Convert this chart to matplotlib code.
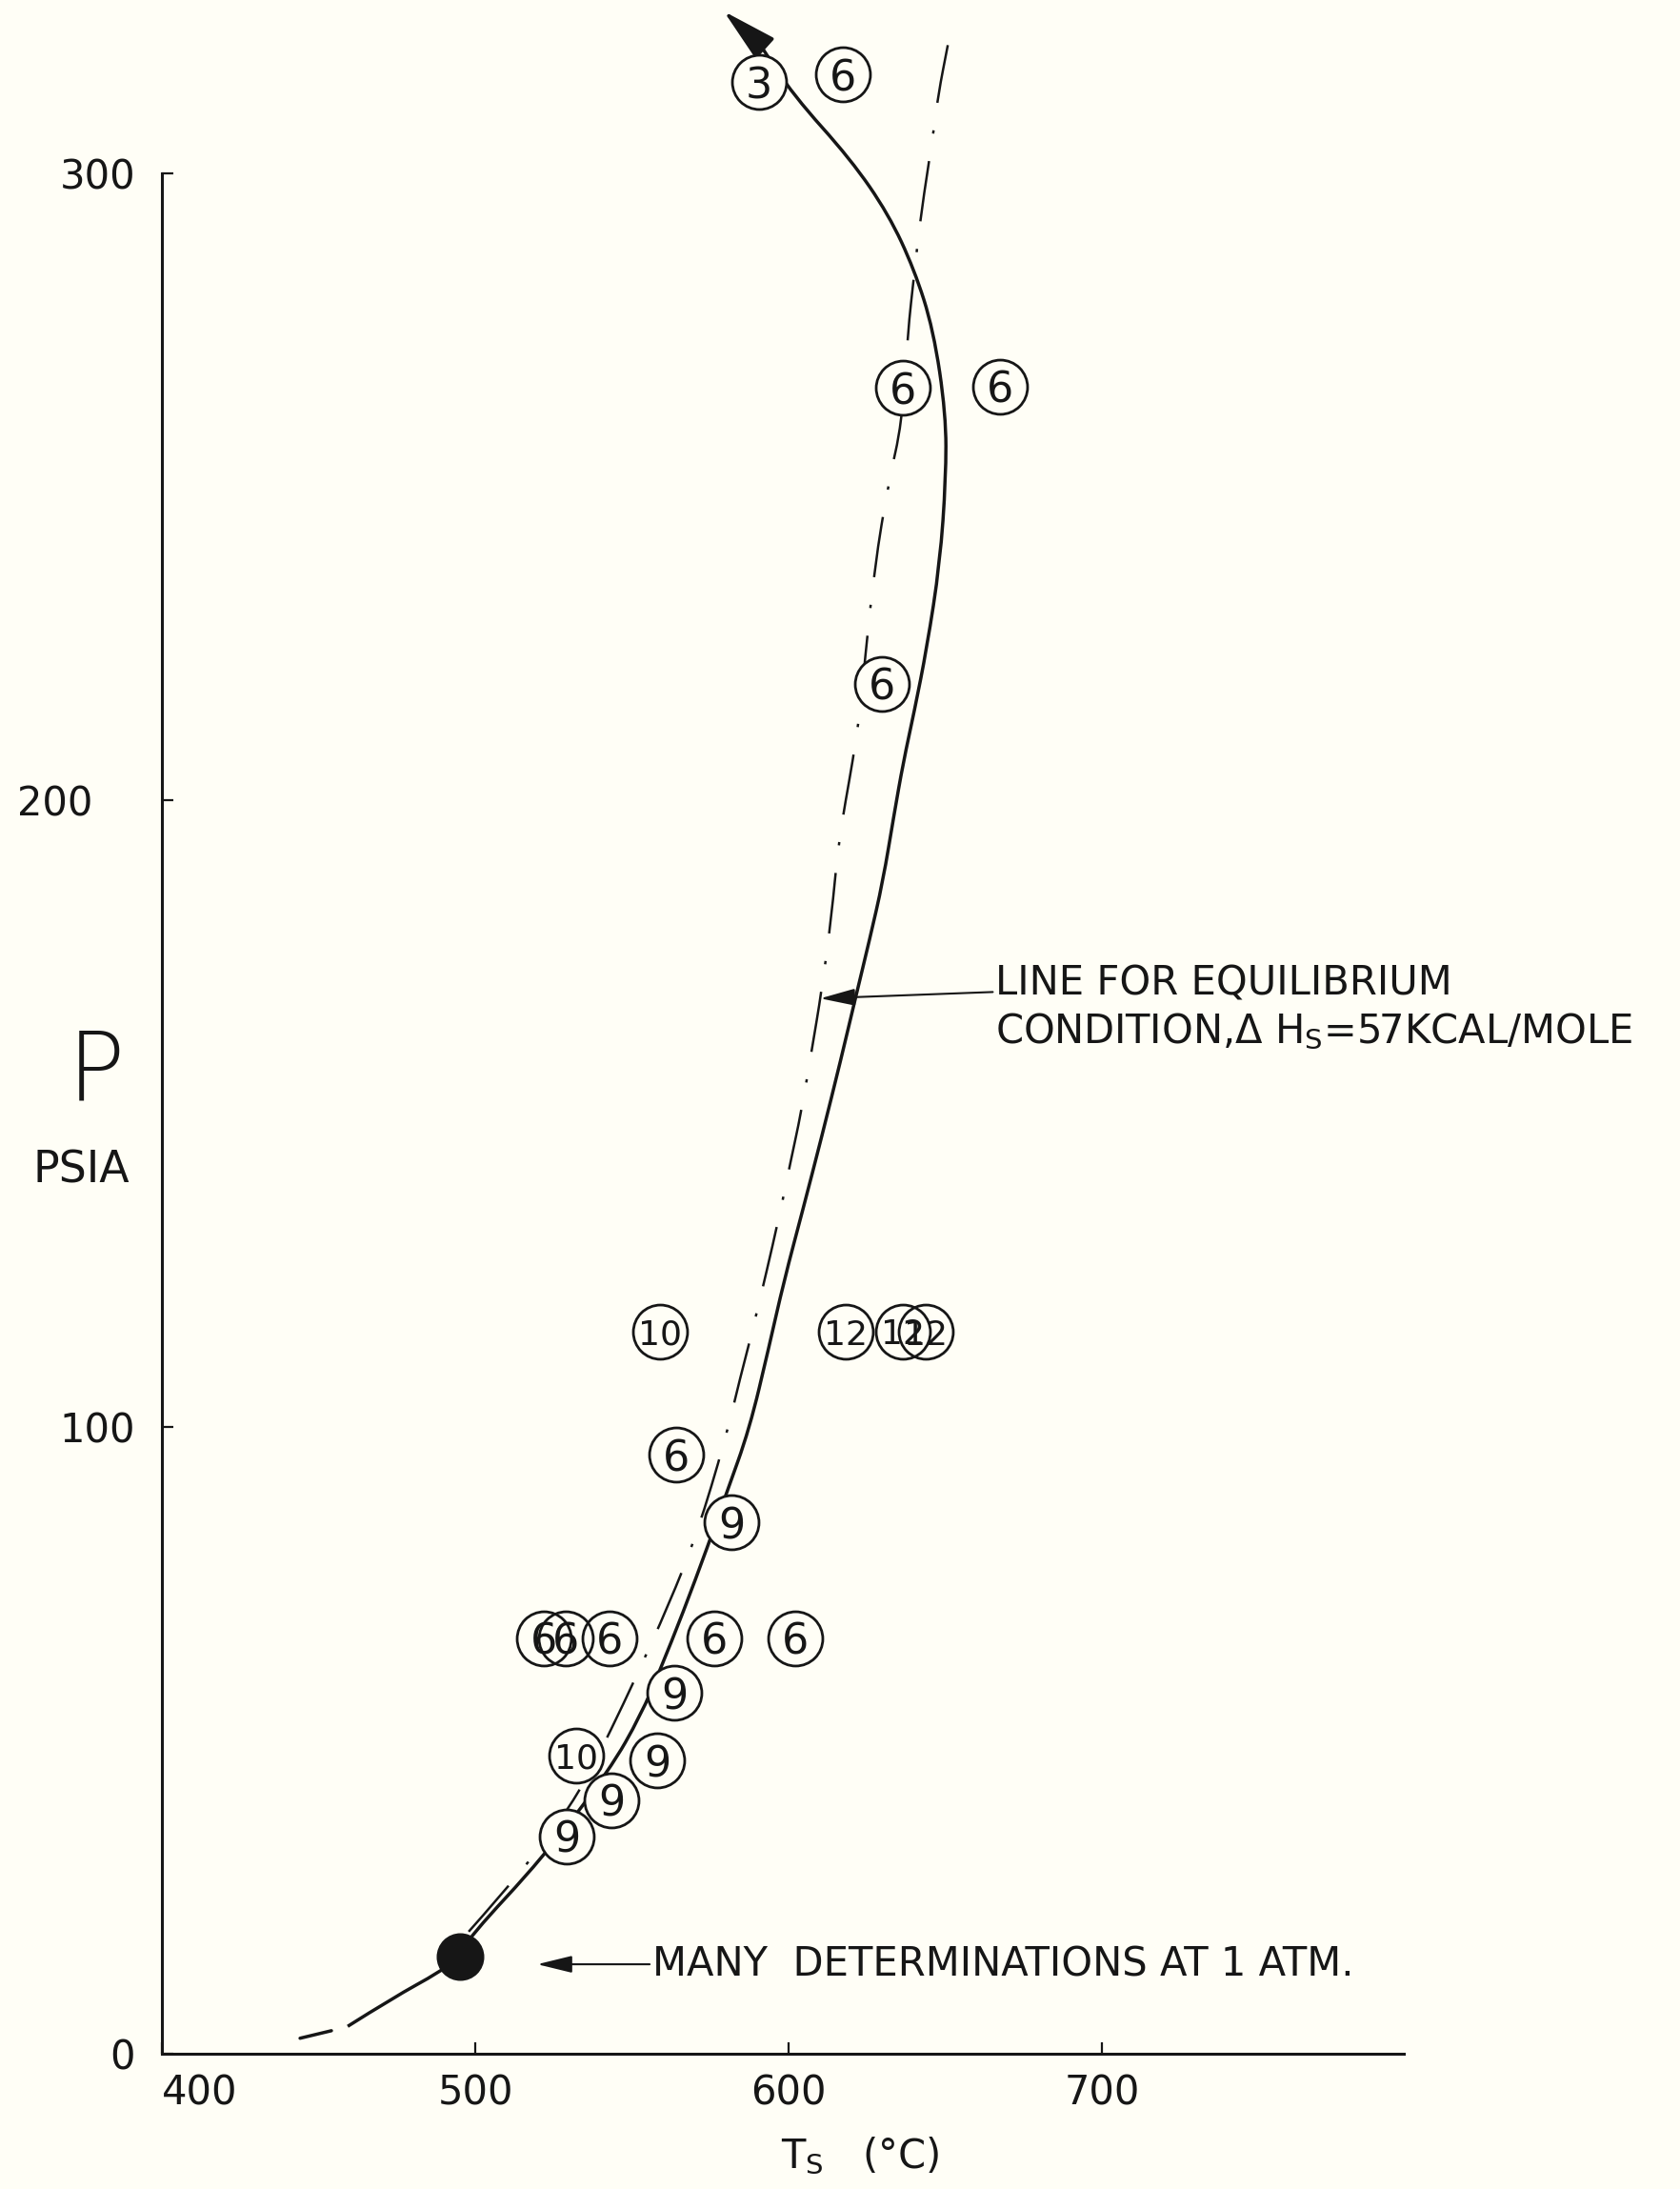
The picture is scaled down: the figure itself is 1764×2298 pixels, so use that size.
import matplotlib.pyplot as plt
from matplotlib.path import Path
from matplotlib.patches import PathPatch
from matplotlib.transforms import ScaledTranslation

plt.rcParams['font.family'] = ['DejaVu Sans']
plt.rcParams['mathtext.default'] = 'regular'
plt.rcParams['lines.scale_dashes'] = False

BG = '#fffef6'
INK = '#161616'

# circled measurements: T_s (deg C), P (psia), number written in the circle
pt_T = [590.6, 617.3, 636.5, 667.5, 629.8, 559.0, 618.2, 636.4, 643.8,
        564.1, 581.8, 521.8, 528.8, 542.9, 576.3, 602.1, 563.5, 532.2,
        558.1, 543.5, 529.2]
pt_P = [314.5, 315.7, 265.7, 265.9, 218.5, 115.1, 115.1, 115.2, 115.1,
        95.5, 84.7, 66.2, 66.2, 66.2, 66.2, 66.2, 57.5, 47.5,
        46.7, 40.4, 34.6]
pt_lab = ['3', '6', '6', '6', '6', '10', '12', '12', '12',
          '6', '9', '6', '6', '6', '6', '6', '9', '10',
          '9', '9', '9']

# the "many determinations at 1 atm" point
atm_T = 495.0
atm_P = 15.4

# hand drawn solid curve (first segment is a short dash, last segment the arrow)
curve_T = [444.1, 454.1, 459.3, 473.9, 488.8, 495.1, 498.2, 521.6, 542.9,
           552.9, 559.0, 566.3, 574.2, 580.2, 587.5, 593.6, 598.5, 604.6,
           610.6, 616.7, 621.3, 625.8, 630.1, 633.6, 636.6, 640.1, 644.1,
           648.3, 650.2, 650.2, 646.2, 640.1, 631.9, 619.8, 601.5, 590.6,
           579.3]
curve_P = [2.4, 3.6, 4.3, 8.9, 13.0, 15.4, 18.6, 31.2, 45.2,
           54.0, 61.2, 70.3, 80.9, 89.4, 99.6, 112.4, 123.2, 134.7,
           146.3, 158.6, 168.3, 177.6, 187.0, 197.5, 206.0, 214.1, 224.2,
           237.8, 251.3, 261.5, 275.0, 284.6, 293.4, 302.2, 312.4, 320.7,
           325.8]

# dash-dot equilibrium line (dH_s = 57 kcal/mole)
eq_T = [497.9, 517.6, 533.7, 543.5, 551.1, 561.7, 570.8, 579.9, 584.5,
        589.1, 597.0, 600.6, 604.0, 607.3, 610.6, 613.7, 615.8, 618.2,
        620.4, 622.8, 624.3, 627.4, 631.9, 636.2, 638.0, 640.1, 642.2,
        646.2, 647.7, 650.8]
eq_P = [19.4, 30.5, 41.9, 51.8, 59.8, 71.5, 82.9, 98.1, 107.7,
        116.5, 133.4, 142.2, 150.1, 159.8, 169.7, 181.5, 192.5, 199.9,
        206.0, 214.1, 222.1, 237.0, 250.7, 260.1, 274.4, 284.0, 293.4,
        306.3, 312.4, 320.4]

x_ticks = [400, 500, 600, 700]
y_ticks = [0, 100, 200, 300]


def french_curve(xs, ys):
    # quadratic b-spline through the read points, like drawing with a french curve
    pts = list(zip(xs, ys))
    verts = [pts[0]]
    codes = [Path.MOVETO]
    for i in range(1, len(pts) - 1):
        mid = ((pts[i][0] + pts[i + 1][0]) / 2, (pts[i][1] + pts[i + 1][1]) / 2)
        verts += [pts[i], mid]
        codes += [Path.CURVE3, Path.CURVE3]
    verts.append(pts[-1])
    codes.append(Path.LINETO)
    return Path(verts, codes)


fig = plt.figure(figsize=(17.65, 22.98), dpi=100, facecolor=BG)
ax = fig.add_axes([0.0963, 0.0620, 0.7388, 0.938])
ax.set_facecolor(BG)
ax.set_xlim(400, 796.3)
ax.set_ylim(0, 327.6)

for s in ['top', 'right']:
    ax.spines[s].set_visible(False)
for s in ['left', 'bottom']:
    ax.spines[s].set_linewidth(2.2)
    ax.spines[s].set_color(INK)
ax.spines['left'].set_bounds(0, 300)
ax.spines['bottom'].set_bounds(400, 796.3)

ax.set_xticks(x_ticks)
ax.set_xticklabels([str(v) for v in x_ticks])
ax.set_yticks(y_ticks)
ax.set_yticklabels([str(v) for v in y_ticks])
ax.tick_params(axis='both', direction='in', length=8.5, width=1.6,
               color=INK, labelcolor=INK, labelsize=30)
ax.tick_params(axis='x', pad=15)
ax.tick_params(axis='y', pad=20)
# hand lettering: "400" sits right of the corner, "200" further out
ax.get_xticklabels()[0].set_ha('left')
lab200 = ax.get_yticklabels()[2]
lab200.set_transform(lab200.get_transform() + ScaledTranslation(-0.45, 0, fig.dpi_scale_trans))

# curves
ax.plot(curve_T[:2], curve_P[:2], color=INK, lw=2.5, solid_capstyle='round', zorder=2)
ax.add_patch(PathPatch(french_curve(curve_T[2:-1], curve_P[2:-1]), fill=False,
                       edgecolor=INK, lw=2.5, joinstyle='round', zorder=2))
ax.annotate('', xy=(curve_T[-1], curve_P[-1]), xytext=(curve_T[-2], curve_P[-2]),
            arrowprops=dict(arrowstyle='-|>,head_length=1.2,head_width=0.3',
                            mutation_scale=30, color=INK, lw=2.5,
                            shrinkA=0, shrinkB=0), zorder=2)
ax.add_patch(PathPatch(french_curve(eq_T, eq_P), fill=False, edgecolor=INK, lw=1.8,
                       linestyle=(0, (46, 21, 2.5, 21)), zorder=2))

# circled points: fill first so lines are hidden, outlines of overlaps stay visible
ax.plot(pt_T, pt_P, 'o', ms=41, mfc=BG, mec='none', ls='none', zorder=3)
ax.plot(pt_T, pt_P, 'o', ms=41, mfc='none', mec=INK, mew=2.0, ls='none', zorder=4)
for t, p, lab in zip(pt_T, pt_P, pt_lab):
    ax.text(t, p, lab, ha='center', va='center_baseline', color=INK,
            fontsize=32 if len(lab) == 1 else 26, zorder=5)

ax.plot([atm_T], [atm_P], 'o', ms=35, color=INK, zorder=4)

# annotations
ax.annotate('LINE FOR EQUILIBRIUM', xy=(610.1, 168.3), xytext=(666.0, 170.7),
            ha='left', va='center', fontsize=30, color=INK,
            arrowprops=dict(arrowstyle='-|>,head_length=0.9,head_width=0.22',
                            mutation_scale=25, color=INK, lw=1.5,
                            shrinkA=0, shrinkB=0))
ax.text(666.0, 163.0, 'CONDITION,Δ H$_S$=57KCAL/MOLE', ha='left', va='center',
        fontsize=30, color=INK)

ax.annotate('MANY  DETERMINATIONS AT 1 ATM.', xy=(519.8, 14.2), xytext=(556.5, 14.2),
            ha='left', va='center', fontsize=30, color=INK,
            arrowprops=dict(arrowstyle='-|>,head_length=0.9,head_width=0.22',
                            mutation_scale=25, color=INK, lw=1.5,
                            shrinkA=0, shrinkB=0))

# axis titles
ax.set_xlabel('T$_S$   (°C)', fontsize=30, color=INK)
ax.xaxis.set_label_coords(0.562, -0.040)
ax.xaxis.label.set_va('top')
fig.text(0.0572, 0.5096, 'P', fontsize=72, fontweight='ultralight', color=INK,
         ha='center', va='center')
fig.text(0.0482, 0.4652, 'PSIA', fontsize=33, color=INK, ha='center', va='center')

fig.savefig('out.png', dpi=100, facecolor=BG)
